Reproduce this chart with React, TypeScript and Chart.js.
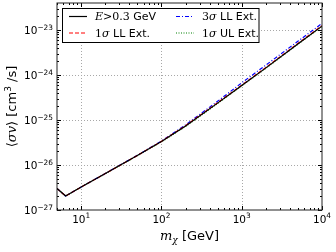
import React, { useEffect, useRef } from "react";
import { Chart, registerables } from "chart.js";
Chart.register(...registerables);

// ---- data ----
const masses = [5, 6.4, 8, 10, 20, 50, 100, 200, 500, 1000, 2000, 5000, 10000];
const eAbove03 = [3.0e-27, 2.05e-27, 2.57e-27, 3.24e-27, 6.46e-27, 1.62e-26, 3.31e-26, 7.35e-26, 2.37e-25, 5.83e-25, 1.44e-24, 4.9e-24, 1.22e-23];
const ll1Sigma = [3.0e-27, 2.05e-27, 2.57e-27, 3.24e-27, 6.46e-27, 1.62e-26, 3.35e-26, 7.5e-26, 2.42e-25, 5.95e-25, 1.47e-24, 5.0e-24, 1.245e-23];
const ll3Sigma = [3.0e-27, 2.05e-27, 2.57e-27, 3.24e-27, 6.5e-27, 1.64e-26, 3.4e-26, 7.8e-26, 2.6e-25, 6.7e-25, 1.66e-24, 5.6e-24, 1.4e-23];
const ul1Sigma = [3.0e-27, 2.05e-27, 2.57e-27, 3.24e-27, 6.4e-27, 1.6e-26, 3.27e-26, 7.2e-26, 2.32e-25, 5.72e-25, 1.41e-24, 4.8e-24, 1.2e-23];

const xTickValues = [10, 100, 1000, 10000];
const xTickExps = ["1", "2", "3", "4"];
const yTickValues = [1e-27, 1e-26, 1e-25, 1e-24, 1e-23];
const yTickExps = ["\u221227", "\u221226", "\u221225", "\u221224", "\u221223"];

const X_MIN = 5;
const X_MAX = 10000;
const Y_MIN = 1e-27;
const Y_MAX = Math.pow(10, -22.4);

const SANS = "'DejaVu Sans', sans-serif";
const SERIF = "'DejaVu Serif', serif";

type Seg = { t: string; f: string; dy?: number };

function richWidth(ctx: CanvasRenderingContext2D, segs: Seg[]) {
  let w = 0;
  for (const s of segs) {
    ctx.font = s.f;
    w += ctx.measureText(s.t).width;
  }
  return w;
}

function drawRich(ctx: CanvasRenderingContext2D, segs: Seg[], x: number, y: number, align: "left" | "center" | "right") {
  const w = richWidth(ctx, segs);
  let cx = align === "left" ? x : align === "center" ? x - w / 2 : x - w;
  ctx.textAlign = "left";
  ctx.textBaseline = "alphabetic";
  for (const s of segs) {
    ctx.font = s.f;
    ctx.fillText(s.t, cx, y + (s.dy || 0));
    cx += ctx.measureText(s.t).width;
  }
}

function minorTicks(lo: number, hi: number) {
  const out: number[] = [];
  const d0 = Math.floor(Math.log10(lo));
  const d1 = Math.ceil(Math.log10(hi));
  for (let d = d0; d <= d1; d++) {
    for (let m = 2; m <= 9; m++) {
      const v = m * Math.pow(10, d);
      if (v >= lo && v <= hi) out.push(v);
    }
  }
  return out;
}

const legendItems: { segs: Seg[]; idx: number }[] = [
  { segs: [{ t: "E", f: `italic 11px ${SERIF}` }, { t: ">0.3", f: `11px ${SERIF}` }, { t: " GeV", f: `11px ${SANS}` }], idx: 0 },
  { segs: [{ t: "1", f: `11px ${SERIF}` }, { t: "σ", f: `italic 11px ${SERIF}` }, { t: " LL Ext.", f: `11px ${SANS}` }], idx: 1 },
  { segs: [{ t: "3", f: `11px ${SERIF}` }, { t: "σ", f: `italic 11px ${SERIF}` }, { t: " LL Ext.", f: `11px ${SANS}` }], idx: 2 },
  { segs: [{ t: "1", f: `11px ${SERIF}` }, { t: "σ", f: `italic 11px ${SERIF}` }, { t: " UL Ext.", f: `11px ${SANS}` }], idx: 3 },
];

const mplPlugin = {
  id: "mplLook",
  beforeDatasetsDraw(chart: any) {
    const { ctx, chartArea: a, scales } = chart;
    const x = scales.x;
    const y = scales.y;
    ctx.save();
    ctx.strokeStyle = "#a8a8a8";
    ctx.lineWidth = 1;
    ctx.setLineDash([1, 2]);
    for (const v of xTickValues) {
      const px = Math.round(x.getPixelForValue(v)) + 0.5;
      if (px > a.right - 1) continue;
      ctx.beginPath();
      ctx.moveTo(px, a.top);
      ctx.lineTo(px, a.bottom);
      ctx.stroke();
    }
    for (const v of yTickValues) {
      const py = Math.round(y.getPixelForValue(v)) + 0.5;
      if (py > a.bottom - 1) continue;
      ctx.beginPath();
      ctx.moveTo(a.left, py);
      ctx.lineTo(a.right, py);
      ctx.stroke();
    }
    ctx.restore();
  },
  afterDraw(chart: any) {
    const { ctx, chartArea: a, scales } = chart;
    const x = scales.x;
    const y = scales.y;
    ctx.save();
    // ticks (inward, all sides)
    ctx.strokeStyle = "#000";
    ctx.lineWidth = 1;
    const tickX = (v: number, len: number) => {
      const px = Math.round(x.getPixelForValue(v)) + 0.5;
      ctx.beginPath();
      ctx.moveTo(px, a.bottom);
      ctx.lineTo(px, a.bottom - len);
      ctx.moveTo(px, a.top);
      ctx.lineTo(px, a.top + len);
      ctx.stroke();
    };
    const tickY = (v: number, len: number) => {
      const py = Math.round(y.getPixelForValue(v)) + 0.5;
      ctx.beginPath();
      ctx.moveTo(a.left, py);
      ctx.lineTo(a.left + len, py);
      ctx.moveTo(a.right, py);
      ctx.lineTo(a.right - len, py);
      ctx.stroke();
    };
    for (const v of minorTicks(X_MIN, X_MAX)) tickX(v, 2);
    for (const v of xTickValues) tickX(v, 4);
    for (const v of minorTicks(Y_MIN, Y_MAX)) tickY(v, 2);
    for (const v of yTickValues) tickY(v, 4);

    // frame
    ctx.strokeStyle = "#222";
    ctx.lineWidth = 1;
    ctx.strokeRect(a.left, a.top, a.right - a.left, a.bottom - a.top);

    // tick labels
    ctx.fillStyle = "#000";
    xTickValues.forEach((v, i) => {
      const px = x.getPixelForValue(v);
      drawRich(ctx, [
        { t: "10", f: `10.5px ${SANS}` },
        { t: xTickExps[i], f: `7.4px ${SANS}`, dy: -4.6 },
      ], px, a.bottom + 13, "center");
    });
    yTickValues.forEach((v, i) => {
      const py = y.getPixelForValue(v);
      drawRich(ctx, [
        { t: "10", f: `10.5px ${SANS}` },
        { t: yTickExps[i], f: `7.4px ${SANS}`, dy: -4.6 },
      ], a.left - 4, py + 4.3, "right");
    });

    // axis titles
    drawRich(ctx, [
      { t: "m", f: `italic 13px ${SERIF}` },
      { t: "χ", f: `italic 9px ${SERIF}`, dy: 2.5 },
      { t: " [GeV]", f: `13px ${SANS}` },
    ], (a.left + a.right) / 2, 240, "center");

    ctx.save();
    ctx.translate(16, (a.top + a.bottom) / 2);
    ctx.rotate(-Math.PI / 2);
    drawRich(ctx, [
      { t: "⟨", f: `13px ${SERIF}` },
      { t: "σv", f: `italic 13px ${SERIF}` },
      { t: "⟩", f: `13px ${SERIF}` },
      { t: " [cm", f: `13px ${SANS}` },
      { t: "3", f: `9px ${SANS}`, dy: -5.5 },
      { t: " /s]", f: `13px ${SANS}` },
    ], 0, 0, "center");
    ctx.restore();

    // legend
    const bx = 62.5, by = 8.5, bw = 196.5, bh = 34;
    ctx.fillStyle = "#fff";
    ctx.fillRect(bx, by, bw, bh);
    ctx.strokeStyle = "#000";
    ctx.lineWidth = 1;
    ctx.strokeRect(bx, by, bw, bh);
    const pos = [
      { lx: 69, tx: 95, ty: 16 },
      { lx: 69, tx: 95, ty: 32.5 },
      { lx: 176, tx: 202, ty: 16 },
      { lx: 176, tx: 202, ty: 32.5 },
    ];
    legendItems.forEach((it, k) => {
      const ds = chart.data.datasets[it.idx];
      const p = pos[k];
      ctx.strokeStyle = ds.borderColor;
      ctx.lineWidth = ds.borderWidth;
      ctx.setLineDash(ds.borderDash || []);
      ctx.beginPath();
      ctx.moveTo(p.lx, p.ty + 0.5);
      ctx.lineTo(p.lx + 18, p.ty + 0.5);
      ctx.stroke();
      ctx.setLineDash([]);
      ctx.fillStyle = "#000";
      drawRich(ctx, it.segs, p.tx, p.ty + 4, "left");
    });
    ctx.restore();
  },
};

export default function App() {
  const ref = useRef<HTMLCanvasElement>(null);
  useEffect(() => {
    const pts = (arr: number[]) => masses.map((m, i) => ({ x: m, y: arr[i] }));
    const chart = new Chart(ref.current as HTMLCanvasElement, {
      type: "line",
      data: {
        datasets: [
          { label: "E>0.3 GeV", data: pts(eAbove03), borderColor: "#000000", borderWidth: 1.2, borderDash: [], pointRadius: 0, tension: 0 },
          { label: "1σ LL Ext.", data: pts(ll1Sigma), borderColor: "#ff0000", borderWidth: 1.2, borderDash: [4, 2], pointRadius: 0, tension: 0 },
          { label: "3σ LL Ext.", data: pts(ll3Sigma), borderColor: "#0000ff", borderWidth: 1.2, borderDash: [4, 2, 1, 2], pointRadius: 0, tension: 0 },
          { label: "1σ UL Ext.", data: pts(ul1Sigma), borderColor: "#008000", borderWidth: 1.2, borderDash: [1, 1.5], pointRadius: 0, tension: 0 },
        ],
      } as any,
      options: {
        responsive: false,
        animation: false,
        layout: { padding: { top: 3, right: 14, left: 0, bottom: 0 } },
        plugins: { legend: { display: false }, tooltip: { enabled: false } },
        scales: {
          x: {
            type: "logarithmic",
            min: X_MIN,
            max: X_MAX,
            grid: { display: false },
            border: { display: false },
            ticks: { display: false },
            afterFit: (s: any) => { s.height = 42; },
          },
          y: {
            type: "logarithmic",
            min: Y_MIN,
            max: Y_MAX,
            grid: { display: false },
            border: { display: false },
            ticks: { display: false },
            afterFit: (s: any) => { s.width = 57; },
          },
        },
      } as any,
      plugins: [mplPlugin as any],
    });
    return () => chart.destroy();
  }, []);
  return (
    <div style={{ position: "fixed", left: 0, top: 0, width: 336, height: 252, background: "#fff" }}>
      <canvas ref={ref} width={336} height={252} style={{ width: 336, height: 252, display: "block" }} />
    </div>
  );
}
